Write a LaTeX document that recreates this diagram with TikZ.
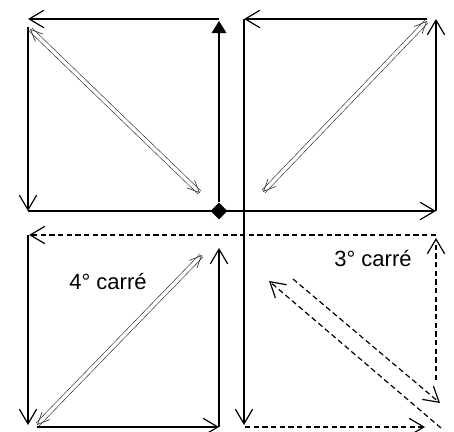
\documentclass[tikz,border=0pt]{standalone}
\usepackage{fontspec}
\setmainfont{Liberation Sans}
\usetikzlibrary{arrows.meta,shapes.geometric}
\begin{document}
\begin{tikzpicture}[x=0.75pt, y=-0.75pt, line width=0.9pt,
  bar/.style={-{Straight Barb[length=11pt,width=13pt,line width=0.9pt]}},
  dashline/.style={dash pattern=on 4pt off 2.5pt},
  twin/.style={double, double distance=2.6pt, line width=0.45pt, draw=black!85,
    {Straight Barb[length=9pt,width=8pt,line width=0.45pt]}-{Straight Barb[length=9pt,width=8pt,line width=0.45pt]}},
  tag/.style={font=\fontsize{16.5}{19}\selectfont, inner sep=0pt}]
  \useasboundingbox (0,0) rectangle (454,432);
  % corners
  \coordinate (nw) at (28,19);   \coordinate (nm) at (219,19);
  \coordinate (nm2) at (244,19); \coordinate (ne) at (436,19);
  \coordinate (wm) at (28,211);  \coordinate (em) at (436,211);
  \coordinate (wd) at (28,235);  \coordinate (ed) at (436,235);
  \coordinate (sw) at (28,425);  \coordinate (se) at (436,427);
  \node[diamond, fill, inner sep=0pt, minimum size=13pt] (hub) at (219,211) {};
  % 1er carre
  \draw[bar] (nm) -- (nw);
  \draw[bar] (28,27) -- (wm);
  \draw[bar] (wm) -- (em);
  \draw[-{Triangle[length=9pt,width=11pt]}] (hub) -- (219,21);
  \draw[twin] (30,29) -- (200,193);
  % 2e carre
  \draw[bar] (427,19) -- (nm2);
  \draw[bar] (nm2) -- (244,425);
  \draw[bar] (em) -- (ne);
  \draw[twin] (263,192) -- (427,21);
  % 4e carre
  \draw[bar, dashline] (ed) -- (29,235);
  \draw[bar] (wd) -- (sw);
  \draw[bar] (37,427) -- (219,427);
  \draw[bar] (219,427) -- (219,248);
  \draw[twin] (37,425) -- (202,255);
  \node[tag] (c4) at (108,282) {4° carré};
  % 3e carre
  \draw[bar, dashline] (245,427) -- (425,427);
  \draw[bar, dashline] (436,380) -- (436,238);
  \draw[bar, dashline] (293,279) -- (440,403);
  \draw[bar, dashline] (441,428) -- (269,281);
  \node[tag] (c3) at (373,259) {3° carré};
\end{tikzpicture}
\end{document}
